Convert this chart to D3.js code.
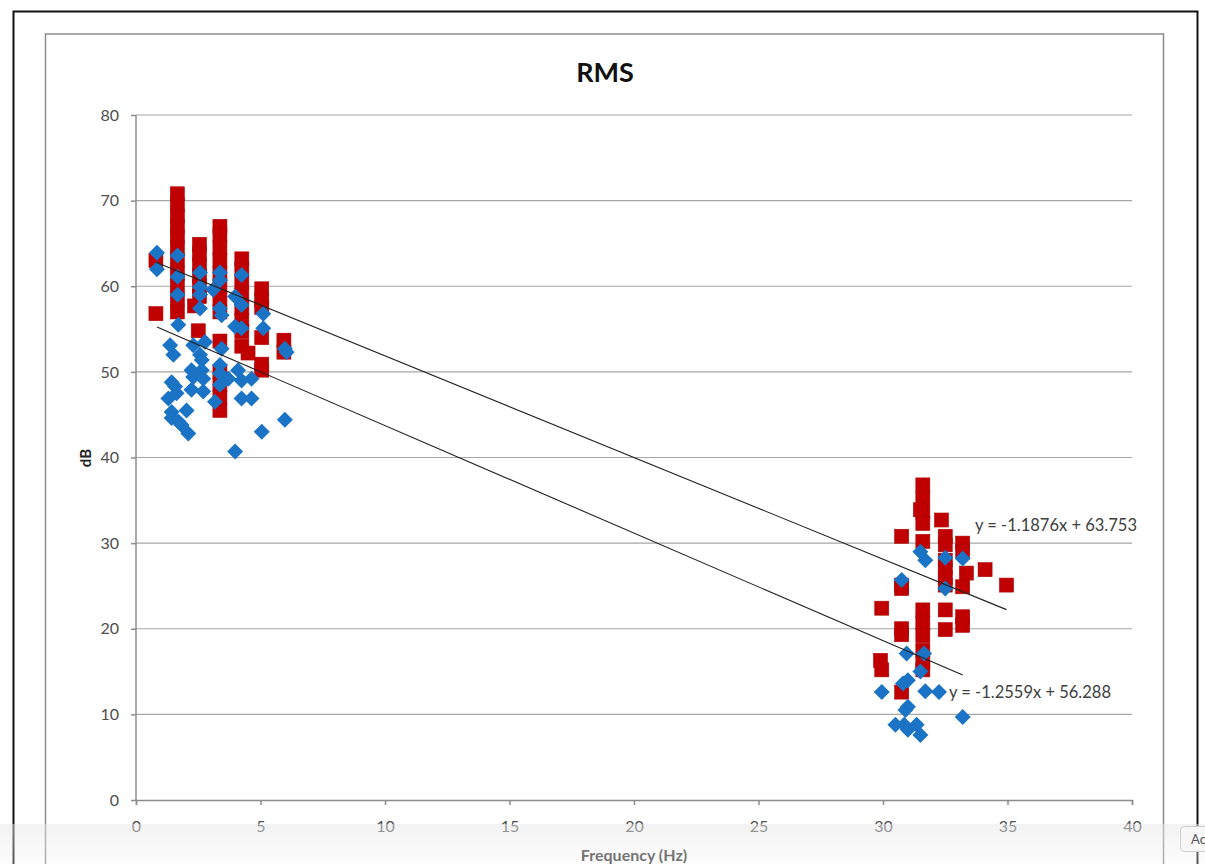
<!DOCTYPE html>
<html>
<head>
<meta charset="utf-8">
<script src="https://cdn.jsdelivr.net/npm/d3@7"></script>
<style>
  body { margin: 0; background: #fff; }
  svg { display: block; font-family: Lato, "Liberation Sans", sans-serif; }
</style>
</head>
<body>
<svg width="1205" height="864"></svg>
<script>
// Series 1 (red squares) - [frequency, dB]
var redPoints = [
  [0.8, 63.0], [0.8, 56.8],
  [1.66, 70.8], [1.66, 69.5], [1.66, 68.2], [1.66, 67.0], [1.66, 65.8], [1.66, 64.5],
  [1.66, 63.0], [1.66, 61.5], [1.66, 60.0], [1.66, 58.5], [1.66, 57.0],
  [2.55, 64.9], [2.55, 63.8], [2.55, 62.5], [2.55, 61.2], [2.55, 60.0], [2.55, 58.8],
  [2.35, 57.7], [2.5, 54.8],
  [3.37, 67.0], [3.37, 66.0], [3.37, 64.5], [3.37, 63.0], [3.37, 61.5], [3.37, 60.0],
  [3.37, 58.5], [3.37, 57.0], [3.37, 53.6], [3.37, 50.0], [3.37, 48.5], [3.37, 47.0], [3.37, 45.5],
  [4.25, 63.2], [4.25, 62.0], [4.25, 60.5], [4.25, 59.0], [4.25, 57.5], [4.25, 56.0],
  [4.25, 54.7], [4.25, 53.0], [4.5, 52.2],
  [5.05, 59.7], [5.05, 58.4], [5.05, 57.5], [5.05, 54.0], [5.05, 50.9], [5.05, 50.2],
  [5.94, 53.7], [5.94, 52.3],
  [31.6, 36.8], [31.6, 35.2], [31.6, 33.6], [31.6, 32.3], [31.6, 30.2], [31.5, 33.9],
  [31.6, 22.2], [31.6, 20.7], [31.6, 19.2], [31.6, 17.5], [31.6, 16.0], [31.6, 15.2],
  [32.35, 32.7],
  [32.5, 30.8], [32.5, 29.8], [32.5, 28.0], [32.5, 27.1], [32.5, 26.0], [32.5, 25.1],
  [32.5, 22.2], [32.5, 19.9],
  [33.2, 30.0], [33.2, 29.0], [33.2, 24.9], [33.2, 21.4], [33.2, 20.4], [33.35, 26.5],
  [34.1, 26.9], [34.96, 25.1],
  [30.75, 30.8], [30.75, 25.1], [30.75, 24.7], [30.75, 20.0], [30.75, 19.3], [30.75, 12.6],
  [29.95, 22.4], [29.95, 15.2], [29.9, 16.3]
];

// Series 2 (blue diamonds)
var bluePoints = [
  [0.84, 63.9], [0.84, 62.0],
  [1.67, 63.6], [1.67, 61.1], [1.67, 59.0], [1.7, 55.5],
  [2.57, 61.6], [2.57, 59.9], [2.57, 59.0], [2.57, 57.4],
  [3.1, 59.6], [3.37, 61.6], [3.37, 60.7], [3.37, 57.4], [3.44, 56.6],
  [4.24, 61.3], [3.98, 58.8], [4.24, 57.8], [5.11, 56.8],
  [3.98, 55.3], [4.24, 55.1], [5.11, 55.1],
  [1.37, 53.1], [1.5, 52.0], [2.77, 53.5], [2.3, 53.1], [2.57, 52.0], [2.64, 51.4],
  [3.44, 52.7], [5.98, 52.7], [6.05, 52.3],
  [3.37, 50.8], [2.23, 50.2], [2.64, 50.2], [2.3, 49.4], [2.7, 49.2], [3.37, 49.8],
  [4.1, 50.2], [4.24, 49.0], [4.64, 49.2], [3.71, 49.2], [3.37, 48.5],
  [1.43, 48.8], [1.57, 48.3], [2.23, 47.9], [2.7, 47.7], [1.63, 47.5], [1.3, 46.9],
  [4.24, 46.9], [4.64, 46.9], [3.17, 46.5],
  [2.03, 45.5], [1.43, 45.3], [1.43, 44.6], [1.7, 44.2], [1.83, 43.8], [2.1, 42.8],
  [5.05, 43.0], [5.98, 44.4], [3.98, 40.7],
  [31.5, 29.0], [31.7, 28.0], [32.5, 28.3], [33.2, 28.2], [30.75, 25.7], [32.5, 24.7],
  [30.95, 17.1], [31.65, 17.1], [31.5, 15.0], [31.0, 14.0], [30.8, 13.6],
  [29.95, 12.6], [31.7, 12.7], [32.25, 12.6],
  [31.0, 10.9], [30.9, 10.5], [33.2, 9.7],
  [30.5, 8.8], [30.85, 8.8], [31.0, 8.2], [31.35, 8.8], [31.5, 7.6]
];

// linear trend lines: [slope, intercept]
var redTrend = [-1.1876, 63.753];
var blueTrend = [-1.2559, 56.288];
var redLabel = "y = -1.1876x + 63.753";
var blueLabel = "y = -1.2559x + 56.288";

var xTicks = [0, 5, 10, 15, 20, 25, 30, 35, 40];
var yTicks = [0, 10, 20, 30, 40, 50, 60, 70, 80];

var svg = d3.select("svg"),
    width = +svg.attr("width"),
    height = +svg.attr("height");

var plotLeft = 136, plotRight = 1132, plotTop = 115, plotBottom = 800;

var x = d3.scaleLinear().domain([0, 40]).range([plotLeft, plotRight]);
var y = d3.scaleLinear().domain([0, 80]).range([plotBottom, plotTop]);

// frames
svg.append("rect")
    .attr("x", 13.5).attr("y", 11.5)
    .attr("width", 1184).attr("height", 900)
    .attr("fill", "#fff").attr("stroke", "#111").attr("stroke-width", 2);

svg.append("rect")
    .attr("x", 45.5).attr("y", 34)
    .attr("width", 1118).attr("height", 900)
    .attr("fill", "#fff").attr("stroke", "#8c8c8c").attr("stroke-width", 1.5);

// gridlines
svg.append("g")
    .selectAll("line")
    .data(yTicks.filter(function(d) { return d > 0; }))
    .enter().append("line")
    .attr("x1", plotLeft).attr("x2", plotRight)
    .attr("y1", function(d) { return y(d); })
    .attr("y2", function(d) { return y(d); })
    .attr("stroke", "#a6a6a6")
    .attr("stroke-width", 1.2);

// axes
var yAxis = d3.axisLeft(y).tickValues(yTicks).tickSize(5).tickPadding(12);
var xAxis = d3.axisBottom(x).tickValues(xTicks).tickSize(5).tickPadding(16);

var gy = svg.append("g").attr("transform", "translate(" + plotLeft + ",0)").call(yAxis);
var gx = svg.append("g").attr("transform", "translate(0," + plotBottom + ")").call(xAxis);

[gx, gy].forEach(function(g) {
    g.select(".domain").attr("stroke", "#8c8c8c").attr("stroke-width", 1.5);
    g.selectAll(".tick line").attr("stroke", "#8c8c8c").attr("stroke-width", 1.5);
    g.selectAll(".tick text")
        .attr("fill", "#4d4d4d")
        .style("font-size", "16px")
        .style("font-family", "Lato, 'Liberation Sans', sans-serif");
});
gy.select(".domain").attr("d", "M0," + plotBottom + "V" + plotTop);

// red squares
var sq = 14;
svg.append("g")
    .selectAll("rect")
    .data(redPoints)
    .enter().append("rect")
    .attr("x", function(d) { return x(d[0]) - sq / 2; })
    .attr("y", function(d) { return y(d[1]) - sq / 2; })
    .attr("width", sq).attr("height", sq)
    .attr("fill", "#c00000")
    .attr("stroke", "#b00000")
    .attr("stroke-width", 0.6);

// blue diamonds
var dm = 8;
svg.append("g")
    .selectAll("path")
    .data(bluePoints)
    .enter().append("path")
    .attr("d", function(d) {
        var cx = x(d[0]), cy = y(d[1]);
        return "M" + cx + "," + (cy - dm) + "L" + (cx + dm) + "," + cy +
               "L" + cx + "," + (cy + dm) + "L" + (cx - dm) + "," + cy + "Z";
    })
    .attr("fill", "#1a73c4");

// trend lines
function trendLine(points, coef) {
    var xs = d3.extent(points, function(d) { return d[0]; });
    return [[xs[0], coef[0] * xs[0] + coef[1]], [xs[1], coef[0] * xs[1] + coef[1]]];
}
var line = d3.line()
    .x(function(d) { return x(d[0]); })
    .y(function(d) { return y(d[1]); });

svg.append("path")
    .attr("d", line(trendLine(redPoints, redTrend)))
    .attr("fill", "none").attr("stroke", "#222").attr("stroke-width", 1.1);
svg.append("path")
    .attr("d", line(trendLine(bluePoints, blueTrend)))
    .attr("fill", "none").attr("stroke", "#222").attr("stroke-width", 1.1);

svg.append("text")
    .attr("x", 975).attr("y", 531)
    .attr("fill", "#404040").style("font-size", "16.5px")
    .text(redLabel);
svg.append("text")
    .attr("x", 949).attr("y", 698)
    .attr("fill", "#404040").style("font-size", "16.5px")
    .text(blueLabel);

// titles
svg.append("text")
    .attr("x", 605).attr("y", 82)
    .attr("text-anchor", "middle")
    .style("font-size", "27px").style("font-weight", "bold")
    .attr("fill", "#111")
    .text("RMS");

svg.append("text")
    .attr("transform", "translate(91,458) rotate(-90)")
    .attr("text-anchor", "middle")
    .style("font-size", "15px").style("font-weight", "bold")
    .attr("fill", "#222")
    .text("dB");

svg.append("text")
    .attr("x", 634).attr("y", 861)
    .attr("text-anchor", "middle")
    .style("font-size", "16px").style("font-weight", "bold")
    .attr("fill", "#333")
    .text("Frequency (Hz)");

// bottom browser strip overlay
var grad = svg.append("defs").append("linearGradient")
    .attr("id", "strip").attr("x1", 0).attr("y1", 0).attr("x2", 0).attr("y2", 1);
grad.append("stop").attr("offset", "0%").attr("stop-color", "#e6e6e6").attr("stop-opacity", 0.5);
grad.append("stop").attr("offset", "100%").attr("stop-color", "#f4f4f4").attr("stop-opacity", 0.3);
svg.append("rect")
    .attr("x", 0).attr("y", 824).attr("width", width).attr("height", height - 824)
    .attr("fill", "url(#strip)");

svg.append("rect")
    .attr("x", 1180.5).attr("y", 826.5).attr("width", 40).attr("height", 25).attr("rx", 4)
    .attr("fill", "#f7f7f7").attr("stroke", "#cfcfcf");
svg.append("text")
    .attr("x", 1191).attr("y", 844)
    .attr("fill", "#555").style("font-size", "13px")
    .text("Ac");
</script>
</body>
</html>
